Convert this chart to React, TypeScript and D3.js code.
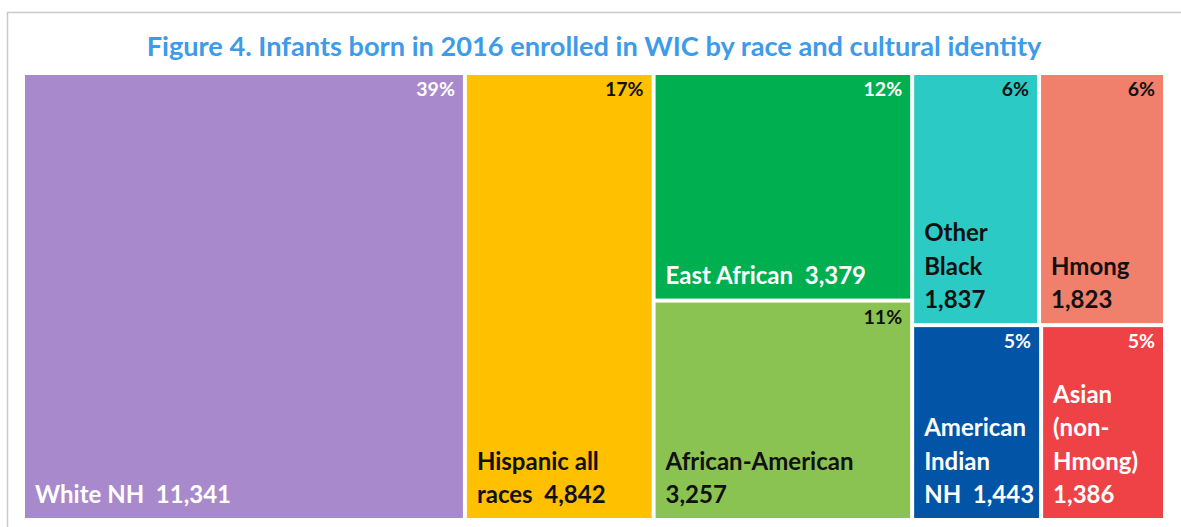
import React from "react";
import * as d3 from "d3";

const title = "Figure 4. Infants born in 2016 enrolled in WIC by race and cultural identity";

const categories = [
  "White NH",
  "Hispanic all races",
  "East African",
  "African-American",
  "Other Black",
  "Hmong",
  "American Indian NH",
  "Asian (non-Hmong)",
];
const values = [11341, 4842, 3379, 3257, 1837, 1823, 1443, 1386];
// treemap grouping: column index and row index within column
const columnOf = [0, 1, 2, 2, 3, 3, 3, 3];
const rowOf = [0, 0, 0, 1, 0, 0, 1, 1];
const labelLines = [
  ["White NH  11,341"],
  ["Hispanic all", "races  4,842"],
  ["East African  3,379"],
  ["African-American", "3,257"],
  ["Other", "Black", "1,837"],
  ["Hmong", "1,823"],
  ["American", "Indian", "NH  1,443"],
  ["Asian", "(non-", "Hmong)", "1,386"],
];
const fills = ["#A889CC", "#FFC000", "#00B050", "#8BC352", "#2CCAC4", "#F07F6C", "#0254A6", "#EF4246"];
const textColors = ["#ffffff", "#111111", "#ffffff", "#111111", "#111111", "#111111", "#ffffff", "#ffffff"];

const W = 1181;
const H = 527;
const X0 = 25, Y0 = 75, X1 = 1163, Y1 = 518;
const FONT = "Lato, 'Open Sans', sans-serif";

type Leaf = { idx: number; name: string; value: number };

export default function App() {
  const total = d3.sum(values);
  const colIds = Array.from(new Set(columnOf));
  const rootData = {
    name: "root",
    children: colIds.map((c) => {
      const rowIds = Array.from(new Set(values.map((_, i) => i).filter((i) => columnOf[i] === c).map((i) => rowOf[i])));
      return {
        name: "col" + c,
        children: rowIds.map((r) => ({
          name: "row" + r,
          children: values
            .map((v, i) => ({ idx: i, name: categories[i], value: v }))
            .filter((d) => columnOf[d.idx] === c && rowOf[d.idx] === r),
        })),
      };
    }),
  };

  const root = d3
    .hierarchy<any>(rootData)
    .sum((d: any) => (d.children ? 0 : d.value));

  const tile = (node: any, x0: number, y0: number, x1: number, y1: number) => {
    if (node.depth % 2 === 0) d3.treemapDice(node, x0, y0, x1, y1);
    else d3.treemapSlice(node, x0, y0, x1, y1);
  };

  d3.treemap<any>().tile(tile as any).size([X1 - X0, Y1 - Y0]).paddingInner(4).round(false)(root);

  const leaves = root.leaves() as any[];
  const pct = d3.format(".0%");
  const lineH = 33.5;

  return (
    <svg width={W} height={H} style={{ position: "absolute", left: 0, top: 0, display: "block" }}>
      <rect x={0} y={0} width={W} height={H} fill="#ffffff" />
      <rect x={7.5} y={12.5} width={W + 20} height={H + 20} fill="none" stroke="#c9c9c9" strokeWidth={1.5} />
      <text
        x={(X0 + X1) / 2}
        y={55.5}
        textAnchor="middle"
        fontFamily={FONT}
        fontWeight={700}
        fontSize={27.2}
        fill="#3D9BE9"
      >
        {title}
      </text>
      <g transform={`translate(${X0},${Y0})`}>
        {leaves.map((n) => {
          const d: Leaf = n.data;
          const i = d.idx;
          const lines = labelLines[i];
          return (
            <g key={d.name}>
              <rect x={n.x0} y={n.y0} width={n.x1 - n.x0} height={n.y1 - n.y0} fill={fills[i]} />
              <text
                x={n.x1 - 8}
                y={n.y0 + 21}
                textAnchor="end"
                fontFamily={FONT}
                fontWeight={700}
                fontSize={19.5}
                fill={textColors[i]}
              >
                {pct(d.value / total)}
              </text>
              {lines.map((ln, k) => (
                <text
                  key={k}
                  x={n.x0 + 10}
                  y={n.y1 - 15 - (lines.length - 1 - k) * lineH}
                  fontFamily={FONT}
                  fontWeight={700}
                  fontSize={24}
                  fill={textColors[i]}
                  style={{ whiteSpace: "pre" }}
                >
                  {ln}
                </text>
              ))}
            </g>
          );
        })}
      </g>
    </svg>
  );
}
